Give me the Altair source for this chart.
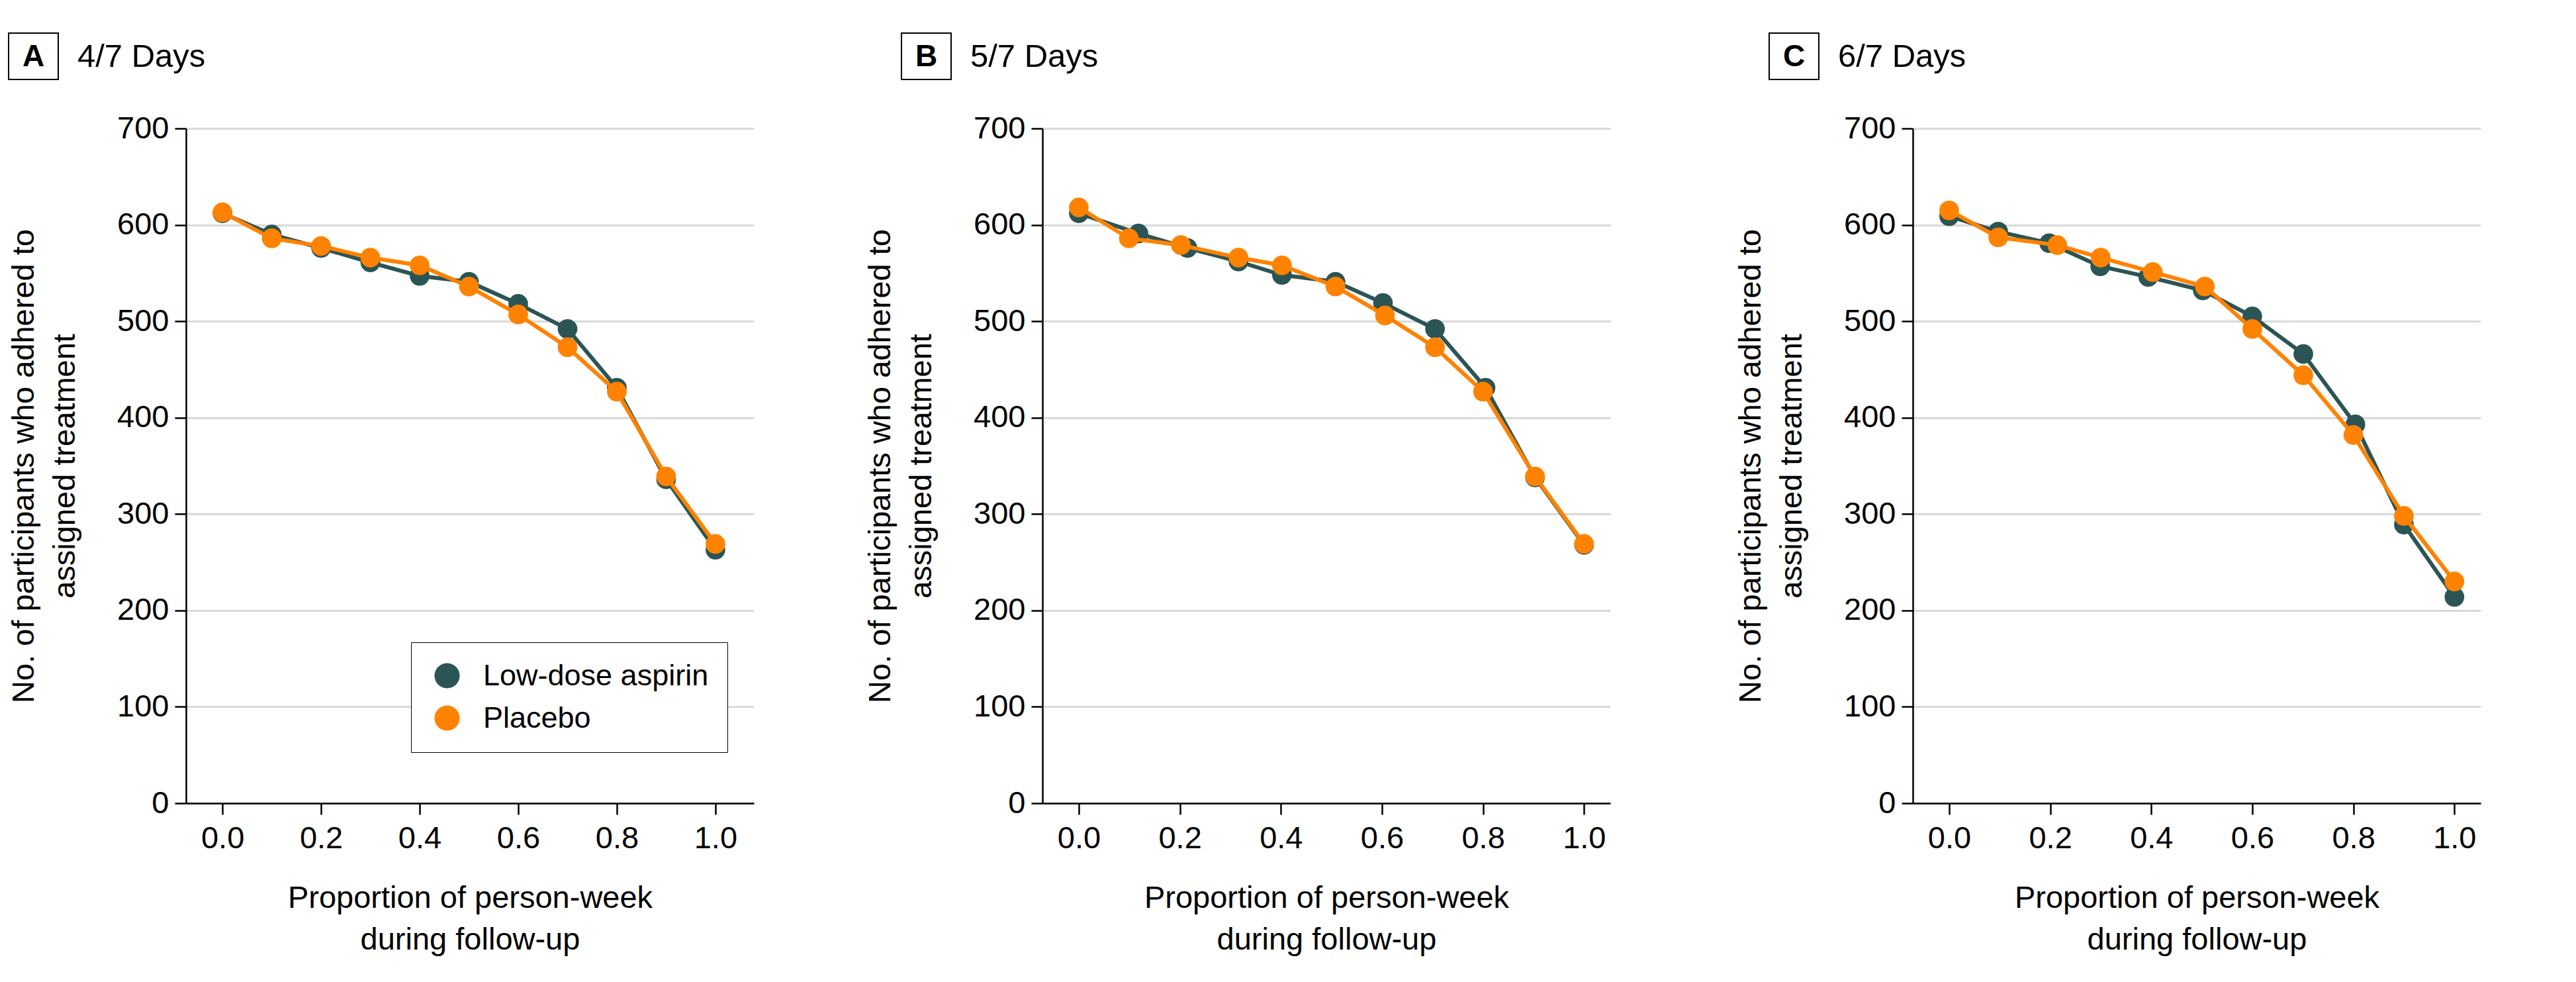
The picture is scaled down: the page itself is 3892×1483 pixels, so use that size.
import altair as alt
import pandas as pd

FONT = "Liberation Sans"
GROUPS = ["Low-dose aspirin", "Placebo"]
COLORS = ["#2b5554", "#ff8200"]

# ---- data ----
x_regular = [0.0, 0.1, 0.2, 0.3, 0.4, 0.5, 0.6, 0.7, 0.8, 0.9, 1.0]

# Panel A: 4/7 days
a_asp_x = x_regular
a_asp_y = [612, 590, 576, 561, 547, 541, 518, 492, 431, 336, 263]
a_pla_x = x_regular
a_pla_y = [613, 586, 578, 566, 558, 536, 507, 473, 427, 339, 269]

# Panel B: 5/7 days
b_asp_x = [0.0, 0.118, 0.215, 0.316, 0.402, 0.508, 0.602, 0.705, 0.805, 0.903, 1.0]
b_asp_y = [612, 591, 576, 562, 548, 541, 519, 492, 431, 338, 268]
b_pla_x = [0.0, 0.099, 0.202, 0.316, 0.402, 0.508, 0.606, 0.705, 0.800, 0.903, 1.0]
b_pla_y = [618, 586, 579, 566, 558, 536, 506, 473, 427, 339, 269]

# Panel C: 6/7 days
c_asp_x = [0.0, 0.097, 0.198, 0.299, 0.394, 0.502, 0.600, 0.701, 0.804, 0.900, 1.0]
c_asp_y = [609, 593, 581, 557, 546, 532, 505, 466, 393, 289, 214]
c_pla_x = [0.0, 0.097, 0.214, 0.300, 0.403, 0.506, 0.600, 0.701, 0.800, 0.900, 1.0]
c_pla_y = [615, 587, 579, 566, 551, 536, 492, 444, 382, 298, 230]

x_ticks = [0.0, 0.2, 0.4, 0.6, 0.8, 1.0]
y_ticks = [0, 100, 200, 300, 400, 500, 600, 700]
x_title = ["Proportion of person-week", "during follow-up"]
y_title = ["No. of participants who adhered to", "assigned treatment"]

W, H = 858, 1019


def build_df(xa, ya, xp, yp):
    rows = []
    for x, y in zip(xa, ya):
        rows.append({"x": x, "y": y, "group": GROUPS[0]})
    for x, y in zip(xp, yp):
        rows.append({"x": x, "y": y, "group": GROUPS[1]})
    return pd.DataFrame(rows)


def make_panel(df, letter, title, xdomain, show_legend, box_x):
    cscale = alt.Scale(domain=GROUPS, range=COLORS)
    xenc = alt.X(
        "x:Q",
        scale=alt.Scale(domain=xdomain, nice=False, zero=False),
        axis=alt.Axis(
            values=x_ticks, format=".1f", grid=False, title=x_title,
            titleX=W / 2, titleY=157, titleBaseline="alphabetic",
            titleAlign="center", titleLineHeight=63, labelPadding=13,
            labelFlush=False,
            labelFont=FONT, titleFont=FONT, labelColor="black",
            titleColor="black", labelFontSize=47, titleFontSize=47,
            titleFontWeight="normal", domainColor="black", domainWidth=2.5,
            tickColor="black", tickWidth=2.5, tickSize=17,
        ),
    )
    yenc = alt.Y(
        "y:Q",
        scale=alt.Scale(domain=[0, 700], nice=False),
        axis=alt.Axis(
            values=y_ticks, grid=True, title=y_title,
            titleX=-231, titleY=H / 2, titleAngle=270,
            titleBaseline="alphabetic", titleAlign="center",
            titleLineHeight=62, labelPadding=9,
            labelFont=FONT, titleFont=FONT, labelColor="black",
            titleColor="black", labelFontSize=47, titleFontSize=47,
            titleFontWeight="normal", domainColor="black", domainWidth=2.5,
            tickColor="black", tickWidth=2.5, tickSize=17,
            gridColor="#d9d9d9", gridWidth=3,
        ),
    )
    layers = []
    for g, col in zip(GROUPS, COLORS):
        sub = alt.Chart(df).transform_filter(alt.datum.group == g)
        layers.append(
            sub.mark_line(strokeWidth=6, color=col).encode(x=xenc, y=yenc)
        )
        layers.append(
            sub.mark_point(filled=True, size=880, opacity=1, color=col).encode(
                x=xenc, y=yenc
            )
        )
    if show_legend:
        legcol = alt.Color(
            "group:N", scale=cscale,
            legend=alt.Legend(
                orient="none", legendX=340, legendY=776, title=None,
                strokeColor="black", fillColor="white", padding=28,
                symbolType="circle", symbolSize=1450, symbolStrokeWidth=0,
                symbolOffset=4, labelOffset=32, rowPadding=18,
                labelFontSize=45, labelFont=FONT, labelColor="black",
                labelLimit=0,
            ),
        )
        # legend-only layer (no visible data), carries the legend symbols
        layers.append(
            alt.Chart(df).transform_filter("false").mark_point(
                filled=True, size=1450, opacity=1
            ).encode(x=xenc, y=yenc, color=legcol)
        )
    ann = pd.DataFrame({"letter": [letter], "title": [title]})
    box = alt.Chart(ann).mark_rect(
        fill="white", stroke="black", strokeWidth=2
    ).encode(
        x=alt.value(box_x), x2=alt.value(box_x + 75),
        y=alt.value(-144), y2=alt.value(-74),
    )
    let = alt.Chart(ann).mark_text(
        font=FONT, fontSize=46, fontWeight="bold", color="black",
        align="center", baseline="middle",
    ).encode(
        x=alt.value(box_x + 37.5), y=alt.value(-108), text="letter:N"
    )
    ttl = alt.Chart(ann).mark_text(
        font=FONT, fontSize=49, color="black", align="left",
        baseline="middle",
    ).encode(
        x=alt.value(box_x + 104), y=alt.value(-108), text="title:N"
    )
    return alt.layer(*layers, box, let, ttl).properties(width=W, height=H)


dfA = build_df(a_asp_x, a_asp_y, a_pla_x, a_pla_y)
dfB = build_df(b_asp_x, b_asp_y, b_pla_x, b_pla_y)
dfC = build_df(c_asp_x, c_asp_y, c_pla_x, c_pla_y)

pA = make_panel(dfA, "A", "4/7 Days", [-0.074, 1.078], True, -268)
pB = make_panel(dfB, "B", "5/7 Days", [-0.072, 1.052], False, -213)
pC = make_panel(dfC, "C", "6/7 Days", [-0.072, 1.052], False, -217)

inner = alt.hconcat(pA, pB, spacing=167)
chart = alt.hconcat(inner, pC, spacing=188).properties(
    padding={"left": 4, "top": 41, "right": 5, "bottom": 5}
).configure_view(
    strokeWidth=0
)

chart.save("out.html", embed_options={"renderer": "svg", "actions": False})
